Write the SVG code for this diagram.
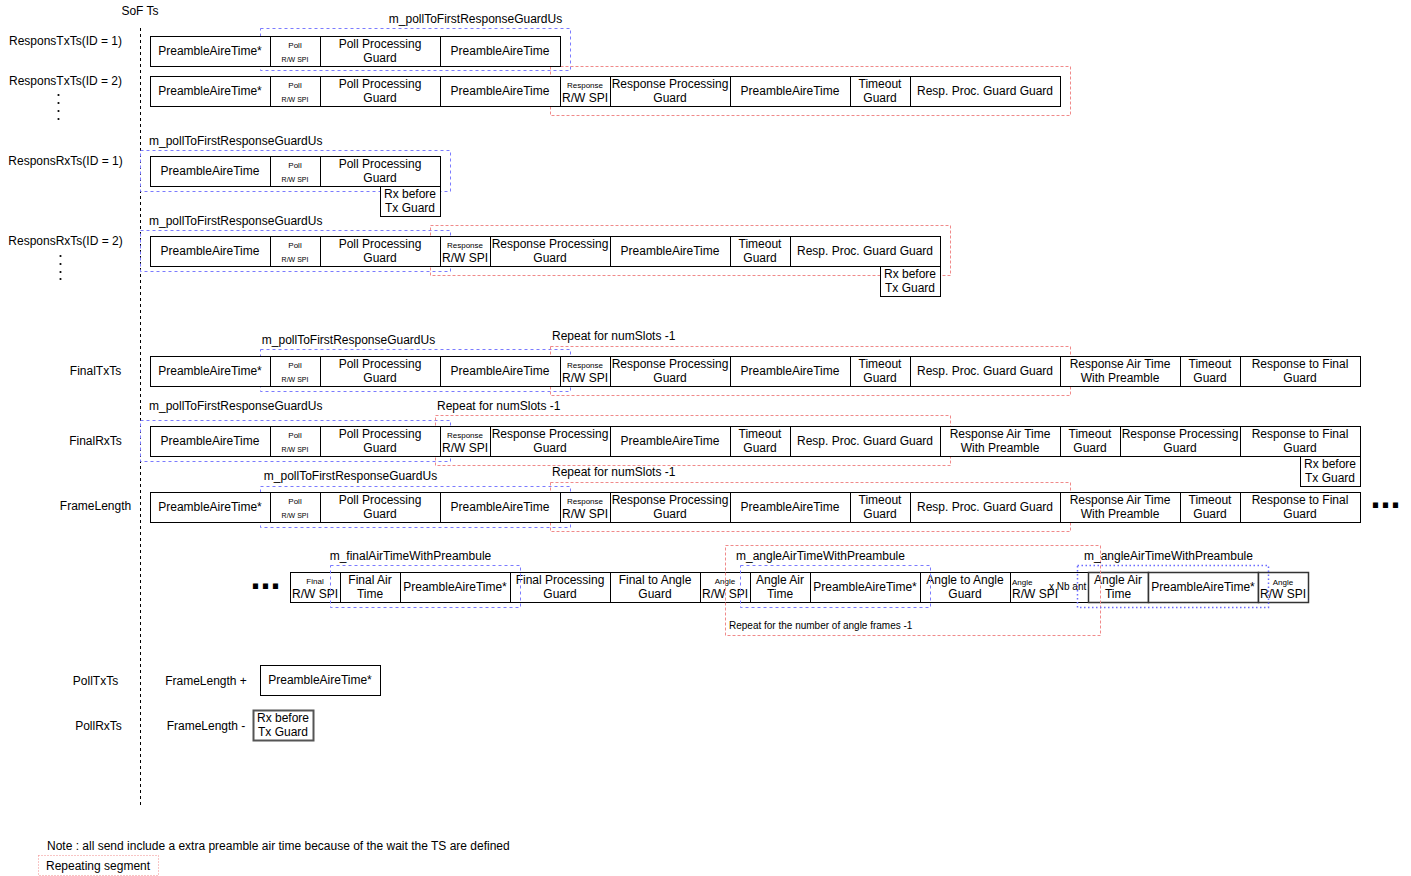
<svg xmlns="http://www.w3.org/2000/svg" width="1411" height="876" viewBox="0 0 1411 876">
  <style>
    .c { fill: #fff; stroke: #000; stroke-width: 1; }
    .g { fill: #fff; stroke: #333; stroke-width: 1.5; }
    .t { font-family: "Liberation Sans", Arial, sans-serif; font-size: 12px; fill: #000; text-anchor: middle; dominant-baseline: central; }
    .s { font-size: 8px; }
    .xs { font-size: 7px; }
    .m { font-size: 10px; }
    .l { text-anchor: start; }
    .bd { fill: none; stroke: #7b7bff; stroke-width: 1; stroke-dasharray: 3 3; }
    .bdot { fill: none; stroke: #6b6bff; stroke-width: 1.5; stroke-dasharray: 1.5 2.5; }
    .rd { fill: none; stroke: #f08a8a; stroke-width: 1; stroke-dasharray: 3 2; }
    .rdot { fill: none; stroke: #f08a8a; stroke-width: 1; stroke-dasharray: 1 2; }
    .axis { stroke: #000; stroke-width: 1; stroke-dasharray: 3 3; }
    .dots { font-family: "Liberation Sans", Arial, sans-serif; font-size: 36px; font-weight: bold; fill: #000; }
  </style>

  <!-- start-of-frame time axis -->
  <g id="axis">
    <line class="axis" x1="140.5" y1="28" x2="140.5" y2="805"/>
    <text class="t" x="140" y="11">SoF Ts</text>
  </g>

  <!-- guard spans and repeating segments (drawn under the slot cells) -->
  <g id="spans">
    <rect class="bd" x="260.5" y="28.5" width="310" height="42"/>
    <text class="t" x="475.5" y="19">m_pollToFirstResponseGuardUs</text>
    <rect class="rd" x="550.5" y="66.5" width="520" height="49"/>

    <rect class="bd" x="140.5" y="150.5" width="310" height="41"/>
    <text class="t l" x="149" y="141">m_pollToFirstResponseGuardUs</text>

    <rect class="bd" x="140.5" y="230.5" width="310" height="41"/>
    <rect class="rd" x="430.5" y="225.5" width="520" height="50"/>
    <text class="t l" x="149" y="221">m_pollToFirstResponseGuardUs</text>

    <rect class="bd" x="260.5" y="349.5" width="310" height="42"/>
    <rect class="rd" x="550.5" y="346.5" width="520" height="49"/>
    <text class="t" x="348.5" y="340">m_pollToFirstResponseGuardUs</text>
    <text class="t l" x="552" y="336">Repeat for numSlots -1</text>

    <rect class="bd" x="140.5" y="420.5" width="310" height="41"/>
    <rect class="rd" x="435.5" y="415.5" width="515" height="50"/>
    <text class="t l" x="149" y="406">m_pollToFirstResponseGuardUs</text>
    <text class="t l" x="437" y="406">Repeat for numSlots -1</text>

    <rect class="bd" x="260.5" y="486.5" width="310" height="41"/>
    <rect class="rd" x="550.5" y="482.5" width="520" height="49"/>
    <text class="t" x="350.5" y="476">m_pollToFirstResponseGuardUs</text>
    <text class="t l" x="552" y="472">Repeat for numSlots -1</text>
  </g>

  <!-- row labels -->
  <g id="row-labels">
    <text class="t" x="65.5" y="41">ResponsTxTs(ID = 1)</text>
    <text class="t" x="65.5" y="81">ResponsTxTs(ID = 2)</text>
    <circle cx="58.5" cy="95" r="1.1"/><circle cx="58.5" cy="103" r="1.1"/><circle cx="58.5" cy="111" r="1.1"/><circle cx="58.5" cy="119" r="1.1"/>
    <text class="t" x="65.5" y="161">ResponsRxTs(ID = 1)</text>
    <text class="t" x="65.5" y="241">ResponsRxTs(ID = 2)</text>
    <circle cx="60.5" cy="256" r="1.1"/><circle cx="60.5" cy="264" r="1.1"/><circle cx="60.5" cy="272" r="1.1"/><circle cx="60.5" cy="279" r="1.1"/>
    <text class="t" x="95.5" y="371">FinalTxTs</text>
    <text class="t" x="95.5" y="441">FinalRxTs</text>
    <text class="t" x="95.5" y="506">FrameLength</text>
    <text class="t" x="95.5" y="681">PollTxTs</text>
    <text class="t" x="98.5" y="726">PollRxTs</text>
  </g>

  <!-- ResponsTxTs(ID = 1) -->
  <g id="resp-tx-1" transform="translate(0,36)">
    <rect class="c" x="150.5" y="0.5" width="120" height="30"/><text class="t" x="210" y="15">PreambleAireTime*</text>
    <rect class="c" x="270.5" y="0.5" width="50" height="30"/><text class="t s" x="295" y="9">Poll</text><text class="t xs" x="295" y="23">R/W SPI</text>
    <rect class="c" x="320.5" y="0.5" width="120" height="30"/><text class="t" x="380" y="8">Poll Processing</text><text class="t" x="380" y="22">Guard</text>
    <rect class="c" x="440.5" y="0.5" width="120" height="30"/><text class="t" x="500" y="15">PreambleAireTime</text>
  </g>

  <!-- ResponsTxTs(ID = 2) -->
  <g id="resp-tx-2" transform="translate(0,76)">
    <rect class="c" x="150.5" y="0.5" width="120" height="30"/><text class="t" x="210" y="15">PreambleAireTime*</text>
    <rect class="c" x="270.5" y="0.5" width="50" height="30"/><text class="t s" x="295" y="9">Poll</text><text class="t xs" x="295" y="23">R/W SPI</text>
    <rect class="c" x="320.5" y="0.5" width="120" height="30"/><text class="t" x="380" y="8">Poll Processing</text><text class="t" x="380" y="22">Guard</text>
    <rect class="c" x="440.5" y="0.5" width="120" height="30"/><text class="t" x="500" y="15">PreambleAireTime</text>
    <rect class="c" x="560.5" y="0.5" width="50" height="30"/><text class="t s" x="585" y="9">Response</text><text class="t" x="585" y="22">R/W SPI</text>
    <rect class="c" x="610.5" y="0.5" width="120" height="30"/><text class="t" x="670" y="8">Response Processing</text><text class="t" x="670" y="22">Guard</text>
    <rect class="c" x="730.5" y="0.5" width="120" height="30"/><text class="t" x="790" y="15">PreambleAireTime</text>
    <rect class="c" x="850.5" y="0.5" width="60" height="30"/><text class="t" x="880" y="8">Timeout</text><text class="t" x="880" y="22">Guard</text>
    <rect class="c" x="910.5" y="0.5" width="150" height="30"/><text class="t" x="985" y="15">Resp. Proc. Guard Guard</text>
  </g>

  <!-- ResponsRxTs(ID = 1) -->
  <g id="resp-rx-1" transform="translate(0,156)">
    <rect class="c" x="150.5" y="0.5" width="120" height="30"/><text class="t" x="210" y="15">PreambleAireTime</text>
    <rect class="c" x="270.5" y="0.5" width="50" height="30"/><text class="t s" x="295" y="9">Poll</text><text class="t xs" x="295" y="23">R/W SPI</text>
    <rect class="c" x="320.5" y="0.5" width="120" height="30"/><text class="t" x="380" y="8">Poll Processing</text><text class="t" x="380" y="22">Guard</text>
    <rect class="c" x="380.5" y="30.5" width="60" height="30"/><text class="t" x="410" y="38">Rx before</text><text class="t" x="410" y="52">Tx Guard</text>
  </g>

  <!-- ResponsRxTs(ID = 2) -->
  <g id="resp-rx-2" transform="translate(0,236)">
    <rect class="c" x="150.5" y="0.5" width="120" height="30"/><text class="t" x="210" y="15">PreambleAireTime</text>
    <rect class="c" x="270.5" y="0.5" width="50" height="30"/><text class="t s" x="295" y="9">Poll</text><text class="t xs" x="295" y="23">R/W SPI</text>
    <rect class="c" x="320.5" y="0.5" width="120" height="30"/><text class="t" x="380" y="8">Poll Processing</text><text class="t" x="380" y="22">Guard</text>
    <rect class="c" x="440.5" y="0.5" width="50" height="30"/><text class="t s" x="465" y="9">Response</text><text class="t" x="465" y="22">R/W SPI</text>
    <rect class="c" x="490.5" y="0.5" width="120" height="30"/><text class="t" x="550" y="8">Response Processing</text><text class="t" x="550" y="22">Guard</text>
    <rect class="c" x="610.5" y="0.5" width="120" height="30"/><text class="t" x="670" y="15">PreambleAireTime</text>
    <rect class="c" x="730.5" y="0.5" width="60" height="30"/><text class="t" x="760" y="8">Timeout</text><text class="t" x="760" y="22">Guard</text>
    <rect class="c" x="790.5" y="0.5" width="150" height="30"/><text class="t" x="865" y="15">Resp. Proc. Guard Guard</text>
    <rect class="c" x="880.5" y="30.5" width="60" height="30"/><text class="t" x="910" y="38">Rx before</text><text class="t" x="910" y="52">Tx Guard</text>
  </g>

  <!-- FinalTxTs -->
  <g id="final-tx" transform="translate(0,356)">
    <rect class="c" x="150.5" y="0.5" width="120" height="30"/><text class="t" x="210" y="15">PreambleAireTime*</text>
    <rect class="c" x="270.5" y="0.5" width="50" height="30"/><text class="t s" x="295" y="9">Poll</text><text class="t xs" x="295" y="23">R/W SPI</text>
    <rect class="c" x="320.5" y="0.5" width="120" height="30"/><text class="t" x="380" y="8">Poll Processing</text><text class="t" x="380" y="22">Guard</text>
    <rect class="c" x="440.5" y="0.5" width="120" height="30"/><text class="t" x="500" y="15">PreambleAireTime</text>
    <rect class="c" x="560.5" y="0.5" width="50" height="30"/><text class="t s" x="585" y="9">Response</text><text class="t" x="585" y="22">R/W SPI</text>
    <rect class="c" x="610.5" y="0.5" width="120" height="30"/><text class="t" x="670" y="8">Response Processing</text><text class="t" x="670" y="22">Guard</text>
    <rect class="c" x="730.5" y="0.5" width="120" height="30"/><text class="t" x="790" y="15">PreambleAireTime</text>
    <rect class="c" x="850.5" y="0.5" width="60" height="30"/><text class="t" x="880" y="8">Timeout</text><text class="t" x="880" y="22">Guard</text>
    <rect class="c" x="910.5" y="0.5" width="150" height="30"/><text class="t" x="985" y="15">Resp. Proc. Guard Guard</text>
    <rect class="c" x="1060.5" y="0.5" width="120" height="30"/><text class="t" x="1120" y="8">Response Air Time</text><text class="t" x="1120" y="22">With Preamble</text>
    <rect class="c" x="1180.5" y="0.5" width="60" height="30"/><text class="t" x="1210" y="8">Timeout</text><text class="t" x="1210" y="22">Guard</text>
    <rect class="c" x="1240.5" y="0.5" width="120" height="30"/><text class="t" x="1300" y="8">Response to Final</text><text class="t" x="1300" y="22">Guard</text>
  </g>

  <!-- FinalRxTs -->
  <g id="final-rx" transform="translate(0,426)">
    <rect class="c" x="150.5" y="0.5" width="120" height="30"/><text class="t" x="210" y="15">PreambleAireTime</text>
    <rect class="c" x="270.5" y="0.5" width="50" height="30"/><text class="t s" x="295" y="9">Poll</text><text class="t xs" x="295" y="23">R/W SPI</text>
    <rect class="c" x="320.5" y="0.5" width="120" height="30"/><text class="t" x="380" y="8">Poll Processing</text><text class="t" x="380" y="22">Guard</text>
    <rect class="c" x="440.5" y="0.5" width="50" height="30"/><text class="t s" x="465" y="9">Response</text><text class="t" x="465" y="22">R/W SPI</text>
    <rect class="c" x="490.5" y="0.5" width="120" height="30"/><text class="t" x="550" y="8">Response Processing</text><text class="t" x="550" y="22">Guard</text>
    <rect class="c" x="610.5" y="0.5" width="120" height="30"/><text class="t" x="670" y="15">PreambleAireTime</text>
    <rect class="c" x="730.5" y="0.5" width="60" height="30"/><text class="t" x="760" y="8">Timeout</text><text class="t" x="760" y="22">Guard</text>
    <rect class="c" x="790.5" y="0.5" width="150" height="30"/><text class="t" x="865" y="15">Resp. Proc. Guard Guard</text>
    <rect class="c" x="940.5" y="0.5" width="120" height="30"/><text class="t" x="1000" y="8">Response Air Time</text><text class="t" x="1000" y="22">With Preamble</text>
    <rect class="c" x="1060.5" y="0.5" width="60" height="30"/><text class="t" x="1090" y="8">Timeout</text><text class="t" x="1090" y="22">Guard</text>
    <rect class="c" x="1120.5" y="0.5" width="120" height="30"/><text class="t" x="1180" y="8">Response Processing</text><text class="t" x="1180" y="22">Guard</text>
    <rect class="c" x="1240.5" y="0.5" width="120" height="30"/><text class="t" x="1300" y="8">Response to Final</text><text class="t" x="1300" y="22">Guard</text>
    <rect class="c" x="1300.5" y="30.5" width="60" height="30"/><text class="t" x="1330" y="38">Rx before</text><text class="t" x="1330" y="52">Tx Guard</text>
  </g>

  <!-- FrameLength -->
  <g id="frame-length" transform="translate(0,492)">
    <rect class="c" x="150.5" y="0.5" width="120" height="30"/><text class="t" x="210" y="15">PreambleAireTime*</text>
    <rect class="c" x="270.5" y="0.5" width="50" height="30"/><text class="t s" x="295" y="9">Poll</text><text class="t xs" x="295" y="23">R/W SPI</text>
    <rect class="c" x="320.5" y="0.5" width="120" height="30"/><text class="t" x="380" y="8">Poll Processing</text><text class="t" x="380" y="22">Guard</text>
    <rect class="c" x="440.5" y="0.5" width="120" height="30"/><text class="t" x="500" y="15">PreambleAireTime</text>
    <rect class="c" x="560.5" y="0.5" width="50" height="30"/><text class="t s" x="585" y="9">Response</text><text class="t" x="585" y="22">R/W SPI</text>
    <rect class="c" x="610.5" y="0.5" width="120" height="30"/><text class="t" x="670" y="8">Response Processing</text><text class="t" x="670" y="22">Guard</text>
    <rect class="c" x="730.5" y="0.5" width="120" height="30"/><text class="t" x="790" y="15">PreambleAireTime</text>
    <rect class="c" x="850.5" y="0.5" width="60" height="30"/><text class="t" x="880" y="8">Timeout</text><text class="t" x="880" y="22">Guard</text>
    <rect class="c" x="910.5" y="0.5" width="150" height="30"/><text class="t" x="985" y="15">Resp. Proc. Guard Guard</text>
    <rect class="c" x="1060.5" y="0.5" width="120" height="30"/><text class="t" x="1120" y="8">Response Air Time</text><text class="t" x="1120" y="22">With Preamble</text>
    <rect class="c" x="1180.5" y="0.5" width="60" height="30"/><text class="t" x="1210" y="8">Timeout</text><text class="t" x="1210" y="22">Guard</text>
    <rect class="c" x="1240.5" y="0.5" width="120" height="30"/><text class="t" x="1300" y="8">Response to Final</text><text class="t" x="1300" y="22">Guard</text>
    <text class="dots" x="1370.5" y="16">...</text>
  </g>

  <!-- FrameLength continued: final and angle frames -->
  <g id="angle-frames" transform="translate(0,572)">
    <text class="dots" x="250.5" y="16.5">...</text>
    <rect class="c" x="290.5" y="0.5" width="50" height="30"/><text class="t s" x="315" y="9">Final</text><text class="t" x="315" y="22">R/W SPI</text>
    <rect class="c" x="340.5" y="0.5" width="60" height="30"/><text class="t" x="370" y="8">Final Air</text><text class="t" x="370" y="22">Time</text>
    <rect class="c" x="400.5" y="0.5" width="110" height="30"/><text class="t" x="455" y="15">PreambleAireTime*</text>
    <rect class="c" x="510.5" y="0.5" width="100" height="30"/><text class="t" x="560" y="8">Final Processing</text><text class="t" x="560" y="22">Guard</text>
    <rect class="c" x="610.5" y="0.5" width="90" height="30"/><text class="t" x="655" y="8">Final to Angle</text><text class="t" x="655" y="22">Guard</text>
    <rect class="c" x="700.5" y="0.5" width="50" height="30"/><text class="t s" x="725" y="9">Angle</text><text class="t" x="725" y="22">R/W SPI</text>
    <rect class="c" x="750.5" y="0.5" width="60" height="30"/><text class="t" x="780" y="8">Angle Air</text><text class="t" x="780" y="22">Time</text>
    <rect class="c" x="810.5" y="0.5" width="110" height="30"/><text class="t" x="865" y="15">PreambleAireTime*</text>
    <rect class="c" x="920.5" y="0.5" width="90" height="30"/><text class="t" x="965" y="8">Angle to Angle</text><text class="t" x="965" y="22">Guard</text>
    <rect class="c" x="1010.5" y="0.5" width="78" height="30"/><text class="t s l" x="1012" y="10">Angle</text><text class="t l" x="1012" y="22">R/W SPI</text>
    <text class="t m l" x="1049" y="14">x Nb ant</text>
    <rect class="g" x="1088.5" y="0.5" width="60" height="30"/><text class="t" x="1118" y="8">Angle Air</text><text class="t" x="1118" y="22">Time</text>
    <rect class="g" x="1148.5" y="0.5" width="110" height="30"/><text class="t" x="1203" y="15">PreambleAireTime*</text>
    <rect class="g" x="1258.5" y="0.5" width="50" height="30"/><text class="t s" x="1283" y="10">Angle</text><text class="t" x="1283" y="22">R/W SPI</text>
  </g>

  <!-- spans over the final / angle frames -->
  <g id="angle-spans">
    <rect class="bd" x="330.5" y="565.5" width="190" height="42"/>
    <text class="t" x="410.5" y="556">m_finalAirTimeWithPreambule</text>
    <rect class="rd" x="725.5" y="545.5" width="375" height="90"/>
    <rect class="bd" x="740.5" y="565.5" width="190" height="42"/>
    <text class="t l" x="736" y="556">m_angleAirTimeWithPreambule</text>
    <text class="t m l" x="729" y="625">Repeat for the number of angle frames -1</text>
    <rect class="bdot" x="1077.5" y="565.5" width="191" height="42"/>
    <text class="t l" x="1084" y="556">m_angleAirTimeWithPreambule</text>
  </g>

  <!-- PollTxTs / PollRxTs -->
  <g id="poll-tx">
    <text class="t" x="206" y="681">FrameLength +</text>
    <rect class="c" x="260.5" y="665.5" width="120" height="30"/><text class="t" x="320" y="680">PreambleAireTime*</text>
  </g>
  <g id="poll-rx">
    <text class="t" x="206" y="726">FrameLength -</text>
    <rect class="c" x="253.5" y="710.5" width="60" height="30" style="stroke:#555;stroke-width:2"/><text class="t" x="283" y="718">Rx before</text><text class="t" x="283" y="732">Tx Guard</text>
  </g>

  <!-- note and legend -->
  <g id="legend">
    <text class="t l" x="47" y="846">Note : all send include a extra preamble air time because of the wait the TS are defined</text>
    <rect class="rdot" x="38.5" y="855.5" width="120" height="20"/>
    <text class="t l" x="46" y="866">Repeating segment</text>
  </g>
</svg>
